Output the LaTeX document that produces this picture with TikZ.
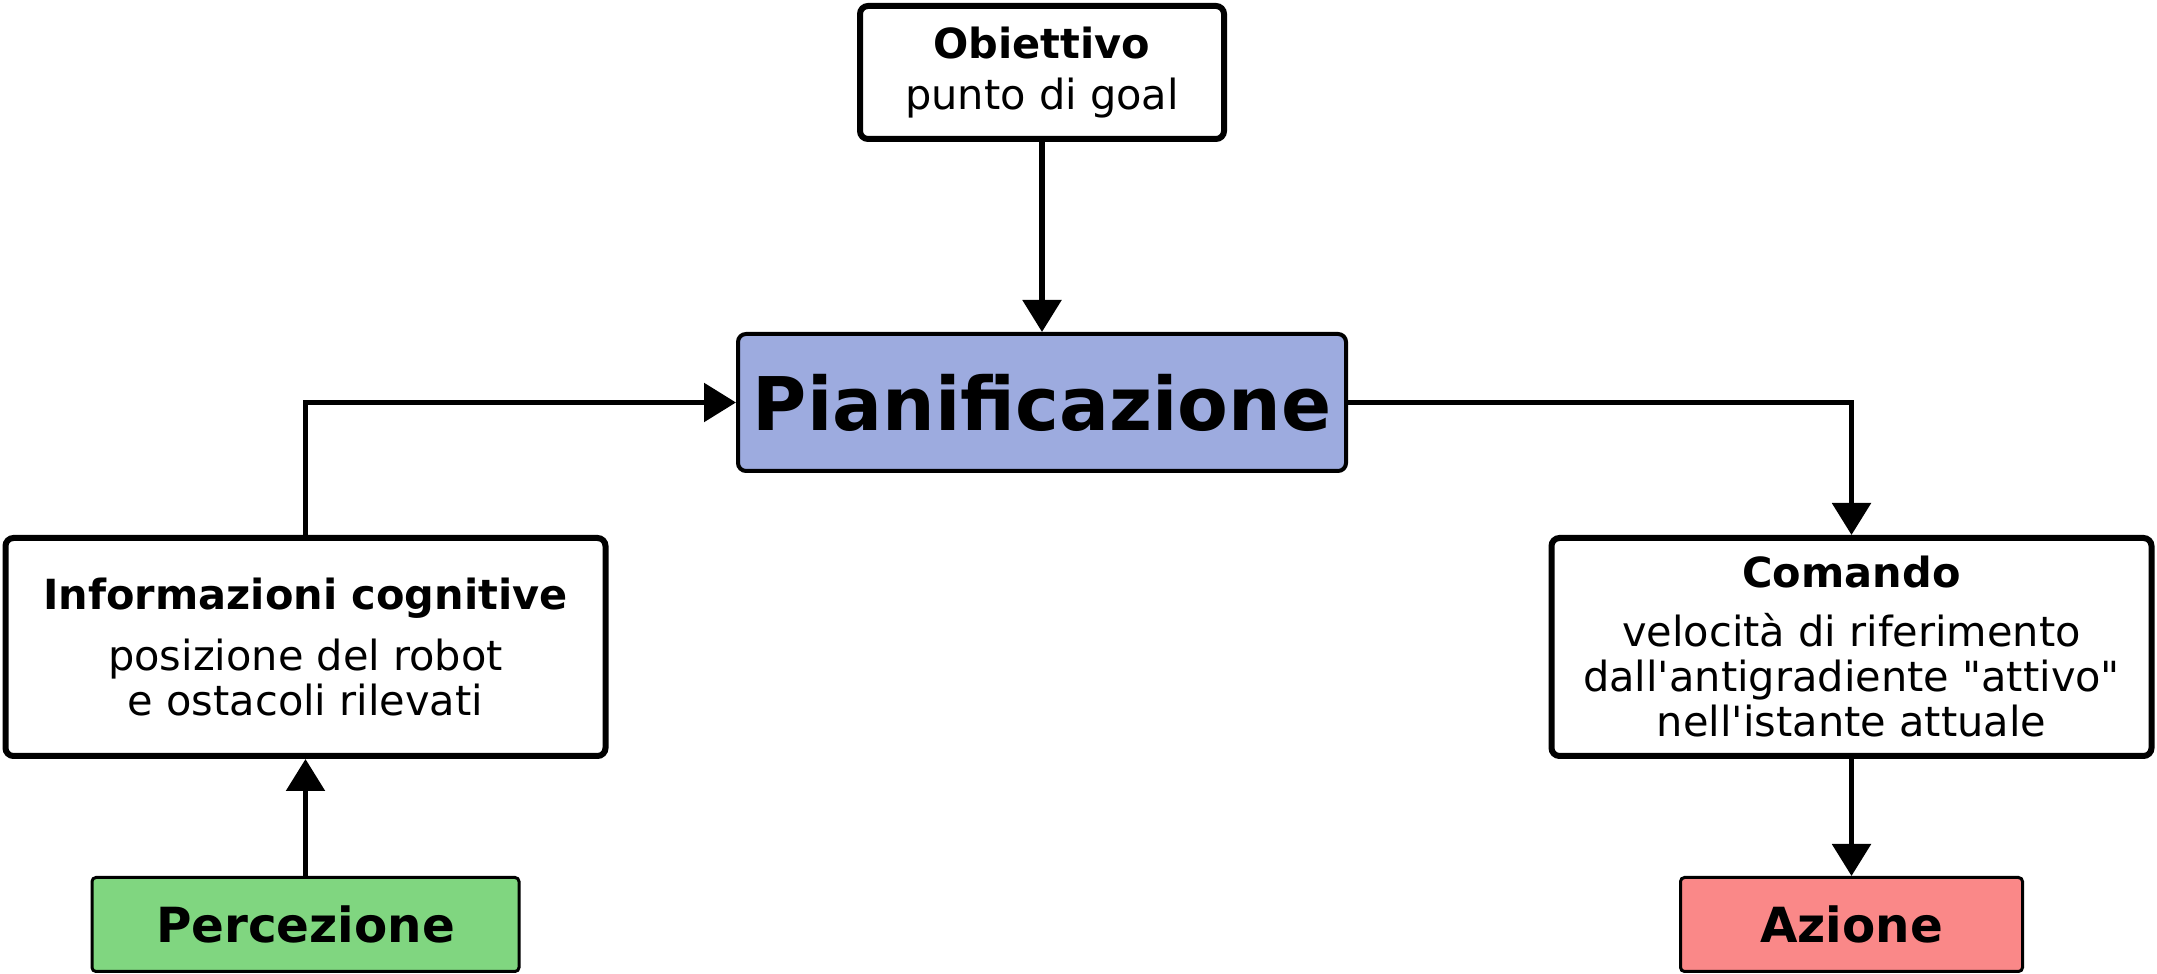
\documentclass[tikz,border=0pt]{standalone}
\usepackage{fontspec}
\setmainfont{DejaVu Sans}[Ligatures=TeXOff]
\usepackage{tikz}
\usetikzlibrary{positioning,arrows.meta}

\definecolor{planblue}{RGB}{157,171,223}
\definecolor{percgreen}{RGB}{128,214,128}
\definecolor{actred}{RGB}{250,136,136}

\begin{document}
\begin{tikzpicture}[
    x=0.5pt, y=0.5pt,
    node distance=58.5pt,
    box/.style={rectangle, draw, rounded corners=4pt, line width=3pt, align=center,
      minimum width=300pt, minimum height=109pt, font=\fontsize{20.75pt}{22.5pt}\selectfont},
    endbox/.style={rectangle, draw, rounded corners=2pt, line width=1.5pt, minimum height=47pt,
      font=\fontsize{24.2pt}{26pt}\selectfont\bfseries},
    flow/.style={-{Triangle[width=19pt,length=16pt]}, line width=2.8pt},
  ]
  \useasboundingbox (0,0) rectangle (2157,974);

  % Planning
  \node[box, fill=planblue, line width=2pt, minimum width=304pt, minimum height=68.5pt,
    font=\fontsize{37pt}{40pt}\selectfont\bfseries] (plan) at (1042,571.5) {Pianificazione};

  % Goal
  \node[box, minimum width=182pt, minimum height=66.5pt, above=95pt of plan] (goal)
    {\textbf{Obiettivo}\\[3pt]punto di goal};

  % Cognitive info and command
  \node[box] (info) at (305.5,327)
    {\textbf{Informazioni cognitive}\\[8pt]posizione del robot\\e ostacoli rilevati};
  \node[box] (cmd) at (1851.5,327)
    {\textbf{Comando}\\[7pt]velocità di riferimento\\dall'antigradiente "attivo"\\nell'istante attuale};

  % Perception and action
  \node[endbox, fill=percgreen, minimum width=213.5pt, below=of info] (perc) {Percezione};
  \node[endbox, fill=actred, minimum width=171pt, below=of cmd] (act) {Azione};

  % Connections
  \draw[flow] (goal) -- (plan);
  \draw[flow] (info.north) |- (plan.west);
  \draw[flow] (plan.east) -| (cmd.north);
  \draw[flow] (perc) -- (info);
  \draw[flow] (cmd) -- (act);

\end{tikzpicture}
\end{document}
